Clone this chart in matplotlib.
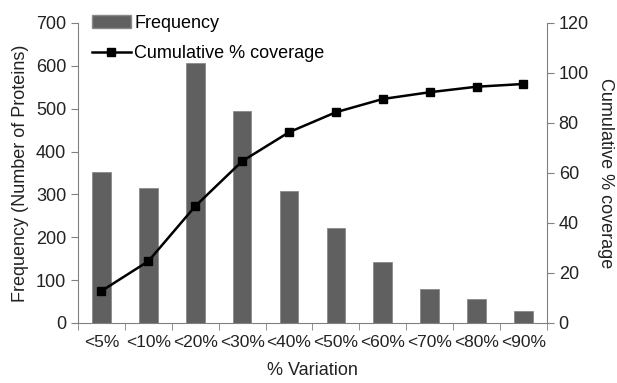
import numpy as np
import matplotlib
matplotlib.use("Agg")
import matplotlib.pyplot as plt
from matplotlib.lines import Line2D
from matplotlib.patches import Patch

categories = ["<5%", "<10%", "<20%", "<30%", "<40%", "<50%", "<60%", "<70%", "<80%", "<90%"]
frequency = [352, 316, 607, 495, 309, 222, 142, 80, 56, 29]
cumulative = [12.8, 24.7, 46.7, 64.7, 76.3, 84.3, 89.6, 92.3, 94.5, 95.6]

plt.rcParams['font.family'] = ['Liberation Sans', 'DejaVu Sans']
plt.rcParams['font.size'] = 13
grey = "#808080"
text_col = "#222222"

fig = plt.figure(figsize=(6.17, 3.83), dpi=100)
ax = fig.add_axes([0.1264, 0.1567, 0.76, 0.7833])
x = np.arange(len(categories))

ax.bar(x, frequency, width=0.4, color="#606060", edgecolor="#8a8a8a", linewidth=0.6)
ax.set_xlim(-0.5, len(categories) - 0.5)
ax.set_ylim(0, 700)
ax.set_yticks(range(0, 701, 100))

# category labels centered, ticks on the boundaries
ax.set_xticks(x)
ax.set_xticklabels(categories, fontsize=12.5)
ax.tick_params(axis='x', length=0, pad=9, colors=text_col)
ax.set_xticks(np.arange(-0.5, len(categories), 1.0), minor=True)
ax.tick_params(axis='x', which='minor', length=5, color=grey, direction='out')
ax.tick_params(axis='y', length=5, color=grey, direction='out', colors=text_col)

ax.spines['top'].set_visible(False)
ax.spines['right'].set_visible(False)
ax.spines['left'].set_color(grey)
ax.spines['bottom'].set_color(grey)

ax.set_ylabel("Frequency (Number of Proteins)", color=text_col, labelpad=5)
ax.set_xlabel("% Variation", color=text_col, labelpad=8)

ax2 = ax.twinx()
ax2.plot(x, cumulative, color="black", lw=1.8, marker="s", ms=6)
ax2.set_ylim(0, 120)
ax2.set_yticks(range(0, 121, 20))
ax2.tick_params(axis='y', length=5, color=grey, direction='out', colors=text_col)
for s in ['top', 'left', 'bottom']:
    ax2.spines[s].set_visible(False)
ax2.spines['right'].set_color(grey)
ax2.set_ylabel("Cumulative % coverage", rotation=270, labelpad=18, color=text_col)

handles = [Patch(facecolor="#606060", edgecolor="#8a8a8a"),
           Line2D([], [], color="black", lw=1.8, marker="s", ms=6)]
fig.legend(handles, ["Frequency", "Cumulative % coverage"], loc="upper left",
           bbox_to_anchor=(0.128, 0.995), frameon=False, handlelength=2.2,
           handletextpad=0.15, labelspacing=0.75, borderpad=0.2)

plt.savefig("out.png", dpi=100)
